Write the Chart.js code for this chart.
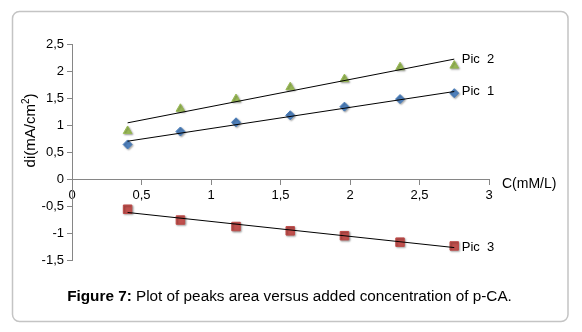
<!DOCTYPE html>
<html>
<head>
<meta charset="utf-8">
<script src="https://cdn.jsdelivr.net/npm/chart.js@4.4.0/dist/chart.umd.min.js"></script>
<style>
  html, body { margin: 0; padding: 0; background: #fff; }
  #khung { position: relative; width: 582px; height: 332px; }
</style>
</head>
<body>
<div id="khung"><canvas id="myChart" width="582" height="332"></canvas></div>
<script>
// nong do C (mM/L) tren truc x
var nongDo = [0.40, 0.78, 1.18, 1.57, 1.96, 2.36, 2.75];
var pic1 = [0.64, 0.88, 1.05, 1.18, 1.34, 1.48, 1.59];
var pic2 = [0.89, 1.30, 1.48, 1.70, 1.85, 2.07, 2.10];
var pic3 = [-0.56, -0.76, -0.88, -0.96, -1.05, -1.17, -1.24];
// duong xu huong: gia tri y tai diem dau va diem cuoi
var xuHuong1 = [0.70, 1.62];
var xuHuong2 = [1.04, 2.22];
var xuHuong3 = [-0.62, -1.27];
var tenSeries = ['Pic  1', 'Pic  2', 'Pic  3'];
var tieuDeX = 'C(mM/L)';
var chuThich = 'Plot of peaks area versus added concentration of p-CA.';

var _myChart = null;
var FONT = '"Liberation Sans", Arial, sans-serif';

function toPoints(ys) {
  return nongDo.map(function (x, i) { return { x: x, y: ys[i] }; });
}
function toTrend(ends) {
  return [
    { x: nongDo[0], y: ends[0] },
    { x: nongDo[nongDo.length - 1], y: ends[1] }
  ];
}
function formatSo(value) {
  return String(value).replace('.', ',');
}

var khungPlugin = {
  id: 'khungPlugin',
  beforeDraw: function (chart) {
    var ctx = chart.ctx;
    ctx.save();
    ctx.strokeStyle = '#c4c4c4';
    ctx.lineWidth = 1.5;
    ctx.beginPath();
    ctx.roundRect(12.5, 11.5, 555.5, 310, 7);
    ctx.stroke();
    ctx.restore();
  },
  beforeDatasetDraw: function (chart, args) {
    if (args.meta.type === 'scatter' && !chart.data.datasets[args.index].showLine) {
      var ctx = chart.ctx;
      ctx.save();
      ctx.shadowColor = 'rgba(0,0,0,0.35)';
      ctx.shadowBlur = 2;
      ctx.shadowOffsetX = 1;
      ctx.shadowOffsetY = 1;
      args.meta._bong = true;
    }
  },
  afterDatasetDraw: function (chart, args) {
    if (args.meta._bong) {
      chart.ctx.restore();
      args.meta._bong = false;
    }
  },
  afterDraw: function (chart) {
    var ctx = chart.ctx;
    var sx = chart.scales.x, sy = chart.scales.y;
    ctx.save();
    ctx.fillStyle = '#000';

    // ten cac series o cuoi duong xu huong
    ctx.font = '13px ' + FONT;
    ctx.textAlign = 'left';
    ctx.textBaseline = 'middle';
    var xCuoi = nongDo[nongDo.length - 1];
    [xuHuong1, xuHuong2, xuHuong3].forEach(function (t, i) {
      ctx.fillText(tenSeries[i], sx.getPixelForValue(xCuoi) + 7.5, sy.getPixelForValue(t[1]));
    });

    // tieu de truc x
    ctx.font = '14px ' + FONT;
    ctx.textBaseline = 'alphabetic';
    ctx.fillText(tieuDeX, sx.right + 13, sy.getPixelForValue(0) + 9);

    // tieu de truc y (xoay)
    ctx.save();
    ctx.translate(35, 130.5);
    ctx.rotate(-Math.PI / 2);
    ctx.font = '15px ' + FONT;
    var p1 = 'di(mA/cm', p2 = '2', p3 = ')';
    var w1 = ctx.measureText(p1).width;
    var w3 = ctx.measureText(p3).width;
    ctx.font = '10px ' + FONT;
    var w2 = ctx.measureText(p2).width;
    var x0 = -(w1 + w2 + w3) / 2;
    ctx.font = '15px ' + FONT;
    ctx.fillText(p1, x0, 0);
    ctx.fillText(p3, x0 + w1 + w2, 0);
    ctx.font = '10px ' + FONT;
    ctx.fillText(p2, x0 + w1, -6);
    ctx.restore();

    // chu thich hinh
    var dam = 'Figure 7:';
    var thuong = ' ' + chuThich;
    ctx.font = 'bold 15.3px ' + FONT;
    var wd = ctx.measureText(dam).width;
    ctx.font = '15.3px ' + FONT;
    var wt = ctx.measureText(thuong).width;
    var xs = 289.5 - (wd + wt) / 2;
    ctx.font = 'bold 15.3px ' + FONT;
    ctx.fillText(dam, xs, 301);
    ctx.font = '15.3px ' + FONT;
    ctx.fillText(thuong, xs + wd, 301);
    ctx.restore();
  }
};

function buildScatterChart() {
  var mauTruc = '#868686';
  var data = {
    datasets: [
      { label: 'trend 1', data: toTrend(xuHuong1), showLine: true, borderColor: '#000', borderWidth: 1, pointRadius: 0 },
      { label: 'trend 2', data: toTrend(xuHuong2), showLine: true, borderColor: '#000', borderWidth: 1, pointRadius: 0 },
      { label: 'trend 3', data: toTrend(xuHuong3), showLine: true, borderColor: '#000', borderWidth: 1, pointRadius: 0 },
      { label: tenSeries[0], data: toPoints(pic1), showLine: false, pointStyle: 'rectRot', pointRadius: 4.5,
        backgroundColor: '#4f81bd', borderColor: '#4a7ebb', borderWidth: 1 },
      { label: tenSeries[1], data: toPoints(pic2), showLine: false, pointStyle: 'triangle', pointRadius: 5,
        backgroundColor: '#9bbb59', borderColor: '#98b954', borderWidth: 1 },
      { label: tenSeries[2], data: toPoints(pic3), showLine: false, pointStyle: 'rect', pointRadius: 6,
        backgroundColor: '#c0504d', borderColor: '#be4b48', borderWidth: 1 }
    ]
  };

  var options = {
    responsive: false,
    animation: false,
    layout: { padding: { left: 0, top: 44, right: 93, bottom: 72 } },
    plugins: {
      legend: { display: false },
      tooltip: { enabled: false }
    },
    scales: {
      x: {
        type: 'linear',
        min: 0,
        max: 3,
        position: { y: 0 },
        afterFit: function (s) { s.height = 0; },
        border: { color: mauTruc, width: 1 },
        grid: { display: true, drawOnChartArea: false, drawTicks: true, tickLength: 5, color: mauTruc },
        ticks: {
          stepSize: 0.5,
          padding: 4,
          color: '#000',
          font: { family: FONT, size: 13 },
          callback: function (value) { return formatSo(value); }
        }
      },
      y: {
        type: 'linear',
        min: -1.5,
        max: 2.5,
        position: 'left',
        afterFit: function (s) { s.width = 72; },
        border: { color: mauTruc, width: 1 },
        grid: { display: true, drawOnChartArea: false, drawTicks: true, tickLength: 5, color: mauTruc },
        ticks: {
          stepSize: 0.5,
          padding: 3,
          color: '#000',
          font: { family: FONT, size: 13 },
          callback: function (value) { return formatSo(value); }
        }
      }
    }
  };

  var ctx = document.getElementById('myChart').getContext('2d');
  _myChart = new Chart(ctx, {
    type: 'scatter',
    data: data,
    options: options,
    plugins: [khungPlugin]
  });
}

buildScatterChart();
</script>
</body>
</html>
